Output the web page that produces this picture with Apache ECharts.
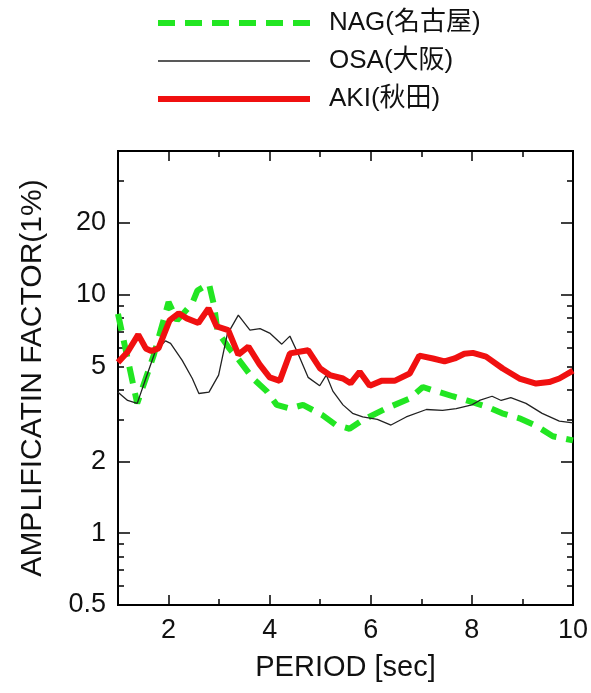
<!DOCTYPE html>
<html>
<head>
<meta charset="utf-8">
<script src="https://cdn.jsdelivr.net/npm/echarts@6/dist/echarts.min.js"></script>
<style>html,body{margin:0;padding:0;background:#fff;}#c{width:591px;height:693px;}</style>
</head>
<body>
<div id="c"></div>
<script>
// ---- data (period [sec], amplification factor) ----
const nagData = [[1.0,8.3],[1.38,3.5],[1.71,5.6],[2.0,9.3],[2.17,7.8],[2.47,9.2],[2.57,10.4],[2.8,11.1],[2.9,9.0],[2.97,7.0],[3.2,5.95],[3.37,5.4],[3.67,4.45],[3.94,3.94],[4.14,3.45],[4.4,3.33],[4.66,3.45],[5.05,3.12],[5.3,2.85],[5.58,2.74],[5.84,2.98],[6.3,3.33],[6.77,3.67],[7.03,4.1],[7.22,3.98],[7.62,3.75],[7.9,3.6],[8.28,3.4],[8.6,3.18],[8.94,3.03],[9.27,2.82],[9.6,2.55],[10.0,2.45]];
const osaData = [[1.0,3.9],[1.19,3.6],[1.38,3.5],[1.55,4.45],[1.74,5.8],[1.94,6.4],[2.04,6.25],[2.27,5.3],[2.47,4.45],[2.6,3.85],[2.8,3.9],[2.99,4.6],[3.16,6.8],[3.38,8.2],[3.61,7.1],[3.81,7.2],[4.0,6.9],[4.24,6.2],[4.4,6.7],[4.56,5.67],[4.76,4.5],[4.99,4.15],[5.12,4.6],[5.25,3.94],[5.45,3.45],[5.64,3.18],[5.84,3.07],[6.13,3.0],[6.4,2.84],[6.7,3.07],[7.1,3.3],[7.42,3.27],[7.69,3.33],[8.0,3.45],[8.15,3.6],[8.4,3.75],[8.58,3.6],[8.77,3.7],[9.07,3.5],[9.39,3.18],[9.73,2.95],[10.0,2.9]];
const akiData = [[1.0,5.2],[1.19,5.75],[1.4,6.8],[1.55,5.95],[1.66,5.8],[1.8,5.95],[2.02,7.8],[2.2,8.35],[2.36,7.95],[2.59,7.6],[2.79,8.76],[2.95,7.36],[3.18,7.1],[3.38,5.6],[3.58,6.05],[3.8,5.1],[4.0,4.5],[4.2,4.35],[4.4,5.67],[4.76,5.85],[5.0,4.9],[5.19,4.6],[5.45,4.45],[5.6,4.25],[5.78,4.75],[5.98,4.15],[6.21,4.35],[6.47,4.35],[6.77,4.67],[6.96,5.55],[7.23,5.4],[7.46,5.25],[7.66,5.4],[7.85,5.65],[8.02,5.7],[8.28,5.5],[8.61,4.9],[8.94,4.45],[9.27,4.24],[9.53,4.3],[9.73,4.45],[10.0,4.8]];
const seriesNames = ['NAG(名古屋)','OSA(大阪)','AKI(秋田)'];
const xLabelValues = [2,4,6,8,10];
const xMajorTicks = [2,4,6,8];
const xMinorTicks = [3,5,7,9];
const yLabelValues = [0.5,1,2,5,10,20];
const yMajorTicks = [1,2,10,20];
const yMinorTicks = [0.6,0.7,0.8,0.9,3,4,5,6,7,8,9,30];

const FONT = '"Liberation Sans", Arial, "Noto Sans CJK JP", sans-serif';
const chart = echarts.init(document.getElementById('c'), null, {renderer:'canvas'});

function xAx(pos, ticks, len, labels) {
  return {
    type:'value', min:1, max:10, position:pos,
    axisLine:{show:true, onZero:false, lineStyle:{color:'#000', width:2}},
    axisTick:{show:true, inside:true, length:len, customValues:ticks, lineStyle:{color:'#000', width:1.5}},
    axisLabel: labels ? {show:true, customValues:labels, margin:12, color:'#111', fontSize:27, fontFamily:FONT} : {show:false},
    splitLine:{show:false}
  };
}
function yAx(pos, ticks, len, labels) {
  return {
    type:'log', logBase:10, min:0.5, max:40, position:pos,
    axisLine:{show:true, onZero:false, lineStyle:{color:'#000', width:2}},
    axisTick:{show:true, inside:true, length:len, customValues:ticks, lineStyle:{color:'#000', width:1.5}},
    axisLabel: labels ? {show:true, customValues:labels, margin:12, color:'#111', fontSize:27, fontFamily:FONT} : {show:false},
    splitLine:{show:false}, minorTick:{show:false}
  };
}

const xAxes = [xAx('bottom', xMajorTicks, 10, xLabelValues), xAx('bottom', xMinorTicks, 6, null), xAx('top', xMajorTicks, 10, null), xAx('top', xMinorTicks, 6, null)];
xAxes[0].name = 'PERIOD [sec]';
xAxes[0].nameLocation = 'middle';
xAxes[0].nameGap = 48;
xAxes[0].nameTextStyle = {fontSize:29, color:'#111', fontFamily:FONT};
const yAxes = [yAx('left', yMajorTicks, 12, yLabelValues), yAx('left', yMinorTicks, 6, null), yAx('right', yMajorTicks, 12, null), yAx('right', yMinorTicks, 6, null)];
yAxes[0].name = 'AMPLIFICATIN FACTOR(1%)';
yAxes[0].nameLocation = 'middle';
yAxes[0].nameGap = 70;
yAxes[0].nameTextStyle = {fontSize:30, color:'#111', fontFamily:FONT};

chart.setOption({
  animation:false,
  backgroundColor:'#fff',
  grid:{left:118, right:18, top:151, bottom:88, containLabel:false},
  legend:{
    orient:'vertical', left:150, top:5, itemWidth:152, itemHeight:16, itemGap:12,
    itemStyle:{opacity:0},
    lineStyle:{width:'inherit'},
    textStyle:{fontSize:26, color:'#111', fontFamily:FONT, padding:[0,0,0,14]},
    data:seriesNames
  },
  xAxis:xAxes,
  yAxis:yAxes,
  series:[
    {name:seriesNames[0], type:'line', data:nagData, symbol:'none', xAxisIndex:0, yAxisIndex:0,
     lineStyle:{color:'#22e622', width:6, type:[17,10]}, itemStyle:{color:'#22e622'}},
    {name:seriesNames[1], type:'line', data:osaData, symbol:'none', xAxisIndex:0, yAxisIndex:0,
     lineStyle:{color:'#222', width:1.3}, itemStyle:{color:'#222'}},
    {name:seriesNames[2], type:'line', data:akiData, symbol:'none', xAxisIndex:0, yAxisIndex:0,
     lineStyle:{color:'#f01010', width:6}, itemStyle:{color:'#f01010'}}
  ]
});
</script>
</body>
</html>
